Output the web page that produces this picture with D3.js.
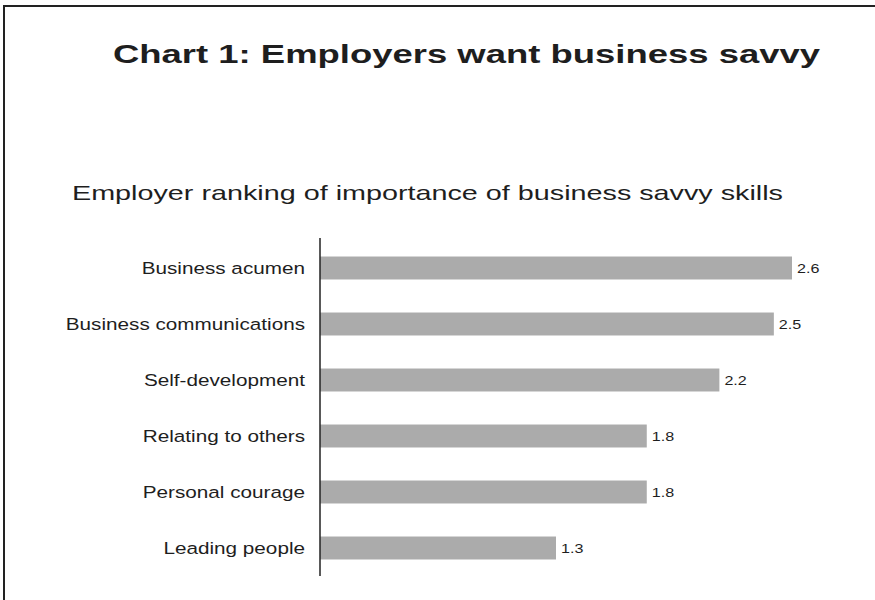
<!DOCTYPE html>
<html>
<head>
<meta charset="utf-8">
<script src="https://cdn.jsdelivr.net/npm/d3@7/dist/d3.min.js"></script>
<style>
  html, body { margin: 0; padding: 0; background: #fff; }
  svg { display: block; }
  text { font-family: "Liberation Sans", Arial, Helvetica, sans-serif; fill: #1e1e1e; }
</style>
</head>
<body>
<svg id="chart" width="875" height="600"></svg>
<script>
const title = "Chart 1: Employers want business savvy";
const subtitle = "Employer ranking of importance of business savvy skills";
const categories = ["Business acumen", "Business communications", "Self-development",
                    "Relating to others", "Personal courage", "Leading people"];
const values = [2.6, 2.5, 2.2, 1.8, 1.8, 1.3];
const valueLabels = ["2.6", "2.5", "2.2", "1.8", "1.8", "1.3"];

const svg = d3.select("#chart");
const W = 875, H = 600;
const stretch = 1.24;

// frame (top and left edges)
svg.append("line").attr("x1", 4).attr("x2", W).attr("y1", 6).attr("y2", 6)
  .attr("stroke", "#222").attr("stroke-width", 2);
svg.append("line").attr("x1", 4).attr("x2", 4).attr("y1", 5).attr("y2", H)
  .attr("stroke", "#222").attr("stroke-width", 2);

// title
svg.append("text").attr("x", 113).attr("y", 63)
  .attr("font-size", 26.5).attr("font-weight", "bold")
  .attr("textLength", 707).attr("lengthAdjust", "spacingAndGlyphs")
  .text(title);

svg.append("text").attr("x", 72).attr("y", 200)
  .attr("font-size", 21)
  .attr("textLength", 711).attr("lengthAdjust", "spacingAndGlyphs")
  .text(subtitle);

const x = d3.scaleLinear().domain([0, 2.6]).range([320, 792]);
const y = d3.scaleBand().domain(categories).range([240, 576])
  .paddingInner(0.59).paddingOuter(0.295);

const data = categories.map((c, i) => ({ c, v: values[i], l: valueLabels[i] }));

svg.append("g").selectAll("rect").data(data).join("rect")
  .attr("x", x(0))
  .attr("y", d => y(d.c))
  .attr("width", d => x(d.v) - x(0))
  .attr("height", y.bandwidth())
  .attr("fill", "#ababab");

// category labels
svg.append("g").selectAll("text").data(data).join("text")
  .attr("transform", d => `translate(305,${y(d.c) + y.bandwidth() / 2 + 6}) scale(${stretch},1)`)
  .attr("text-anchor", "end")
  .attr("font-size", 16.7)
  .text(d => d.c);

// value labels
svg.append("g").selectAll("text").data(data).join("text")
  .attr("transform", d => `translate(${x(d.v) + 5},${y(d.c) + y.bandwidth() / 2 + 5}) scale(${stretch},1)`)
  .attr("font-size", 13)
  .attr("fill", "#333")
  .text(d => d.l);

// axis line
svg.append("line").attr("x1", x(0)).attr("x2", x(0)).attr("y1", 238).attr("y2", 576)
  .attr("stroke", "#222").attr("stroke-width", 1.5);
</script>
</body>
</html>
